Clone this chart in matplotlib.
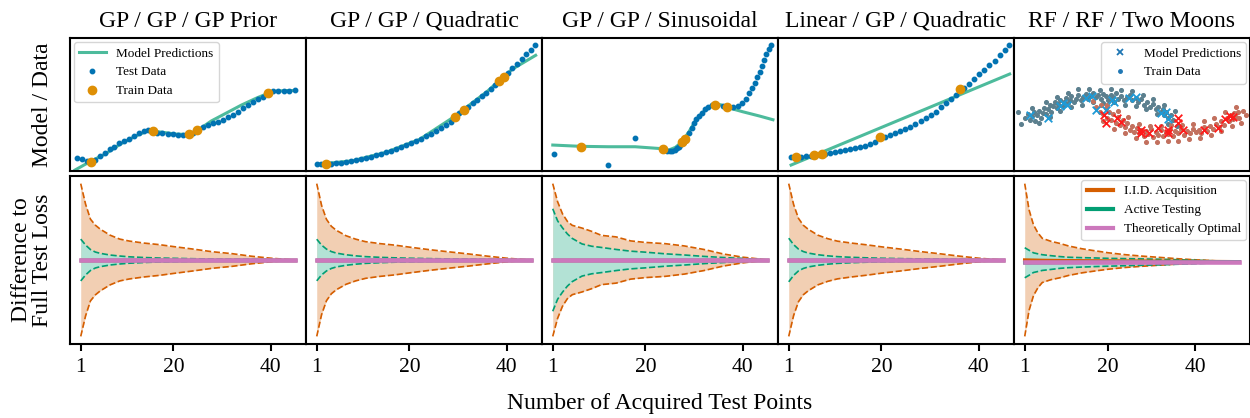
import numpy as np
import matplotlib
matplotlib.use('Agg')
import matplotlib.pyplot as plt
from matplotlib.lines import Line2D

plt.rcParams['font.family'] = ['Liberation Serif', 'DejaVu Serif']
plt.rcParams['axes.linewidth'] = 1.5

BLUE, ORANGE, GREEN, VERM, PINK = '#0173b2', '#de8f05', '#029e73', '#d55e00', '#cc78bc'
FILL_IID, FILL_ACT = '#f2cfb3', '#b3e2d5'

titles = ['GP / GP / GP Prior', 'GP / GP / Quadratic', 'GP / GP / Sinusoidal',
          'Linear / GP / Quadratic', 'RF / RF / Two Moons']

# ---- top row: model / data (units are arbitrary)
p1_test_x = [6.7, 11.7, 16.7, 25, 30, 35, 40, 43.3, 48.3, 53.3, 58.3, 63.3, 68.3, 73.3, 77.3, 86.7, 91.7,
             96.7, 101.7, 106.7, 111.7, 121.7, 131.7, 136.7, 141.7, 146.7, 151.7, 156.7, 161.7, 166.7,
             171.7, 176.7, 181.7, 186.7, 191.7, 201.7, 206.7, 211.7, 216.7, 223.3]
p1_test_y = [13.3, 11.7, 10, 11, 15, 18.3, 21.7, 24.3, 27.7, 30, 32, 35, 38.3, 40.3, 41, 38.3, 37.7,
             37, 36.7, 36.3, 36.3, 38.3, 43.7, 46, 47.7, 48.7, 51, 53.7, 55.7, 59.3,
             62.7, 66, 69.3, 72, 74.3, 80, 80, 79.7, 80.3, 80.7]
p1_train_x = [20.7, 82.7, 117.7, 126, 196.7]
p1_train_y = [9.3, 40, 36.7, 41, 77.7]
p1_model_x = [5, 20, 35, 50, 65, 78, 90, 105, 118, 127, 140, 155, 170, 185, 197, 205, 215, 223]
p1_model_y = [1, 9.5, 17, 27, 35, 40.5, 39, 37, 36.5, 41, 50, 58, 66, 73, 78, 80, 80.5, 80.5]

p2_test_x = [11, 15.3, 24.3, 29.3, 34.3, 39.3, 44.3, 49.3, 54.3, 59.3, 64.3, 69.3, 74.3, 79.3, 84.3,
             89.3, 94.3, 99.3, 104.3, 109.3, 114.3, 119.3, 124.3, 129.3, 134.3, 138.7, 143.3, 152, 161,
             165.3, 170, 174.3, 178.7, 183, 187.3, 200, 204.7, 209.3, 214, 218.3, 222.7, 227]
p2_test_y = [6.7, 6.7, 7.3, 7.7, 8.3, 9, 10, 11, 12, 13, 14.3, 15.7, 17, 18.7, 20.3,
             22, 24, 26, 28, 30, 32.3, 35, 37.3, 40, 42.7, 46, 49.3, 57.7, 64.3,
             67.7, 71, 75, 78.3, 82.3, 86, 97.7, 102.7, 106.7, 111.7, 116.7, 121, 126.3]
p2_train_x = [20, 147.7, 156.7, 191.7, 196]
p2_train_y = [7, 54.3, 61, 90, 94.3]
p2_model_x = [11, 46, 79.3, 112.7, 146, 179.3, 204.3, 216, 227.7]
p2_model_y = [6.7, 10.3, 18.7, 31.7, 53.7, 79.3, 101.7, 108.7, 115.7]

p3_test_x = [11.7, 65.7, 92.3, 124, 126.7, 129, 131.7, 134, 135.7, 137.3, 139, 140.7, 143, 145.7, 148.3,
             150.7, 153, 155.7, 158.3, 161.7, 165, 169, 174, 179, 184, 189, 194, 198.3, 202.3,
             205.7, 208.3, 210.7, 213, 215.7, 217.7, 220, 222.3, 225, 227.3]
p3_test_y = [16.7, 6.3, 33, 20.3, 19.7, 20, 21, 22.7, 24.3, 26, 27.7, 29.3, 32.7, 37.7, 42.7,
             47.7, 51.7, 55, 58.3, 61.7, 64.3, 66, 66.3, 65, 63.7, 63.7, 65, 67.7, 71.7,
             77.7, 82.7, 87.7, 93.7, 99.3, 105, 111, 117, 121.7, 126.3]
p3_train_x = [38.3, 119.7, 139, 141.7, 171.3, 183.3]
p3_train_y = [24.3, 22.3, 29.3, 31.7, 66.3, 63.7]
p3_model_x = [10.7, 38.3, 65.7, 92.3, 119.7, 125.7, 132.3, 139, 145.7, 152.3, 159, 165.7, 171.3,
              177.3, 183.3, 199, 215.7, 229]
p3_model_y = [26, 24.7, 24.3, 24.3, 22.3, 21, 23.7, 29.3, 39.3, 50.3, 58.3, 63.7, 66.3,
              66.3, 63.7, 59.3, 55, 51.3]

p4_test_x = [13, 18, 23, 28, 33, 41.3, 46.3, 51.3, 56.3, 61.3, 66.3, 71.3, 76.3, 81.3, 86.3, 91.3,
             96.3, 106.3, 111.3, 116.3, 121.3, 126.3, 131.3, 136.3, 141.3, 146.3, 151.3, 156.3,
             161.3, 166.3, 171.3, 176.3, 184.7, 189.7, 194.7, 199.7, 204.7, 209.7, 214.7, 219.7,
             224.7, 229]
p4_test_y = [14.3, 14.3, 14.3, 14.7, 15, 16.3, 17, 17.7, 18.7, 19.7, 20.7, 21.7, 22.7, 24, 25.3, 26.7,
             29, 33.7, 36, 38.3, 40.3, 42, 44.3, 46.7, 49.7, 52.7, 56.3, 59.3,
             63.7, 67.7, 71.7, 75.7, 82.7, 87, 91.7, 96.7, 101, 105.7, 110.3, 115.7,
             121, 126.3]
p4_train_x = [18, 35.3, 44, 101.3, 180.7]
p4_train_y = [14.3, 15.7, 17, 33.7, 81.7]
p4_model_x = [13, 229.7]
p4_model_y = [6, 97]

# two moons: train points per class, model predictions per class
moon0_x = [-1.05, -1.0, -0.98, -0.95, -0.92, -0.9, -0.88, -0.85, -0.82, -0.8, -0.78, -0.75, -0.72, -0.7,
           -0.68, -0.65, -0.62, -0.6, -0.58, -0.55, -0.52, -0.5, -0.47, -0.45, -0.42, -0.4, -0.36,
           -0.33, -0.3, -0.27, -0.24, -0.2, -0.17, -0.13, -0.1, -0.06, -0.02, 0.02, 0.05, 0.08, 0.12,
           0.15, 0.18, 0.22, 0.26, 0.3, 0.34, 0.38, 0.42, 0.45, 0.5, 0.54, 0.58, 0.62, 0.66, 0.7,
           0.74, 0.78, 0.82, 0.85, 0.88, 0.9, 0.93, 0.96, 1.0, 1.02,
           -1.1, -0.95, -0.85, -0.75, -0.7, -0.6, -0.55, -0.45, -0.4, -0.3, -0.25, -0.15, -0.1, 0.0,
           0.05, 0.15, 0.2, 0.3, 0.35, 0.45, 0.5, 0.6, 0.65, 0.75, 0.8, 0.9, 0.95, 1.05, 1.08, -1.15]
moon0_y = [0.05, 0.2, -0.05, 0.12, 0.3, -0.1, 0.15, 0.35, 0.05, 0.25, 0.45, 0.2, 0.4, 0.6,
           0.3, 0.55, 0.7, 0.45, 0.62, 0.8, 0.55, 0.72, 0.88, 0.65, 0.78, 0.95, 0.7,
           0.85, 1.0, 0.8, 0.92, 1.05, 0.85, 0.97, 1.1, 0.9, 1.0, 0.85, 1.05, 0.95, 0.8,
           1.0, 0.9, 1.08, 0.85, 0.95, 0.78, 0.9, 1.0, 0.8, 0.88, 0.7, 0.82, 0.6, 0.72, 0.5,
           0.62, 0.4, 0.5, 0.3, 0.42, 0.15, 0.28, 0.05, 0.18, -0.05,
           -0.2, 0.45, -0.15, 0.7, 0.1, 0.9, 0.35, 1.1, 0.5, 1.25, 0.6, 1.25, 0.7, 1.2,
           0.65, 1.25, 0.7, 1.2, 0.6, 1.15, 0.55, 1.0, 0.4, 0.85, 0.2, 0.6, -0.2, 0.35, -0.3, 0.3]
moon1_x = [-0.05, 0.0, 0.02, 0.05, 0.08, 0.1, 0.13, 0.16, 0.18, 0.22, 0.25, 0.28, 0.32, 0.35, 0.38,
           0.42, 0.45, 0.48, 0.52, 0.55, 0.58, 0.62, 0.65, 0.68, 0.72, 0.75, 0.78, 0.82, 0.85,
           0.88, 0.92, 0.95, 0.98, 1.02, 1.05, 1.1, 1.14, 1.18, 1.22, 1.26, 1.3, 1.34, 1.38,
           1.42, 1.46, 1.5, 1.54, 1.58, 1.62, 1.66, 1.7, 1.74, 1.78, 1.8, 1.83, 1.86, 1.88,
           1.9, 1.93, 1.95,
           -0.1, 0.05, 0.1, 0.2, 0.25, 0.35, 0.4, 0.5, 0.55, 0.65, 0.7, 0.8, 0.85, 0.95, 1.0,
           1.1, 1.15, 1.25, 1.3, 1.4, 1.45, 1.55, 1.6, 1.7, 1.75, 1.85, 1.9, 1.98, 2.0, 2.05]
moon1_y = [0.5, 0.3, 0.6, 0.2, 0.45, 0.05, 0.3, -0.05, 0.2, -0.15, 0.1, -0.25, -0.05, -0.35, -0.15,
           -0.45, -0.3, -0.55, -0.38, -0.6, -0.45, -0.7, -0.5, -0.62, -0.4, -0.75, -0.55, -0.65, -0.45,
           -0.7, -0.55, -0.62, -0.4, -0.7, -0.5, -0.6, -0.42, -0.65, -0.5, -0.58, -0.4, -0.55, -0.45,
           -0.6, -0.35, -0.5, -0.3, -0.42, -0.2, -0.35, -0.1, -0.25, 0.05, -0.1, 0.15, 0.0, 0.25,
           0.1, 0.3, 0.05,
           0.75, -0.1, 0.6, -0.4, 0.35, -0.6, 0.1, -0.8, -0.2, -0.95, -0.3, -0.95, -0.3, -0.9, -0.25,
           -0.9, -0.25, -0.85, -0.2, -0.8, -0.1, -0.65, 0.05, -0.5, 0.3, -0.3, 0.5, -0.15, 0.35, 0.15]
pred0_x = [-0.98, -0.72, -0.55, -0.51, -0.46, -0.2, -0.11, -0.06, 0.08, 0.17, 0.2, 0.41, 0.5, 0.85, 0.93, 0.95]
pred0_y = [0.17, 0.03, 0.54, 0.65, 0.58, 0.86, 0.96, 0.38, 0.38, 0.79, 0.72, 0.86, 0.93, 0.24, 0.3, -0.01]
pred1_x = [0.06, 0.08, 0.24, 0.29, 0.57, 0.57, 0.69, 0.81, 0.95, 0.95, 1.09, 1.09, 1.16, 1.46, 1.65, 1.75, 1.82, 1.86]
pred1_y = [0.17, -0.18, 0.03, -0.11, -0.46, -0.6, -0.6, -0.39, -0.46, -0.6, 0.03, -0.18, -0.46, -0.46, -0.39, -0.01, 0.13, 0.07]

# ---- bottom row: difference to full test loss (spread of estimators)
steps_a = [1, 2, 3, 4, 5, 7, 9, 11, 14, 17, 20, 24, 28, 32, 36, 40, 43, 45]
steps_b = [1, 2, 3, 4, 5, 7, 9, 11, 14, 17, 20, 24, 28, 32, 36, 40, 44, 47, 50]
iid_std = [
    [76.7, 56, 41, 35, 31, 25, 21, 19, 17, 15.5, 13.5, 11, 8.3, 6.4, 3.8, 1.8, 0.7, 0],
    [77, 55, 41, 34, 30, 24.5, 21, 18.5, 16.5, 15, 13, 10.5, 8.3, 6.2, 3.9, 1.8, 0.7, 0],
    [76, 58, 46, 38.5, 34.5, 31.8, 28.5, 24.5, 23, 19, 17.5, 16.3, 14, 10.5, 6, 2.8, 1.2, 0],
    [77, 56, 42, 35, 31, 25, 21.5, 19, 17, 15.3, 13.3, 11, 8.5, 6.3, 3.9, 1.8, 0.7, 0],
    [77.7, 51, 36, 28, 22.5, 19.5, 17.5, 15, 12.3, 10.3, 8.4, 6.5, 5.1, 3.9, 2.7, 1.7, 0.9, 0.4, 0],
]
act_std = [
    [21, 15, 10.5, 8, 6.7, 5, 4, 3.2, 2.5, 2, 1.7, 1.3, 1.0, 0.8, 0.6, 0.4, 0.2, 0],
    [21, 15, 11, 8.5, 7, 5.3, 4.2, 3.4, 2.7, 2.2, 1.8, 1.4, 1.1, 0.9, 0.6, 0.4, 0.2, 0],
    [51, 39, 32, 26, 21.5, 16, 13.7, 12.5, 10.5, 8.8, 7.8, 6.2, 5, 3.6, 2.5, 1.5, 0.6, 0],
    [22, 15.5, 11, 8.5, 7, 5.3, 4.2, 3.4, 2.7, 2.2, 1.8, 1.4, 1.1, 0.9, 0.6, 0.4, 0.2, 0],
    [15.3, 12.7, 10, 9, 8, 7, 6, 5.3, 4.8, 4.4, 4, 3.6, 3.2, 2.8, 2.3, 1.8, 1.1, 0.6, 0],
]
iid_mean_b = [1.8, 1.7, 1.6, 1.5, 1.4, 1.3, 1.2, 1.1, 1.0, 0.9, 0.8, 0.7, 0.6, 0.5, 0.4, 0.3, 0.2, 0.1, 0]
act_mean_b = [-1.0, -1.0, -0.9, -0.9, -0.8, -0.8, -0.7, -0.7, -0.6, -0.5, -0.5, -0.4, -0.3, -0.3, -0.2, -0.2, -0.1, 0, 0]

fig = plt.figure(figsize=(12.5, 4.18), dpi=100)
gs = fig.add_gridspec(2, 5, left=0.056, right=1.0, top=0.909, bottom=0.177,
                      hspace=0.033, wspace=0, height_ratios=[133, 168])

tops = [(p1_test_x, p1_test_y, p1_train_x, p1_train_y, p1_model_x, p1_model_y),
        (p2_test_x, p2_test_y, p2_train_x, p2_train_y, p2_model_x, p2_model_y),
        (p3_test_x, p3_test_y, p3_train_x, p3_train_y, p3_model_x, p3_model_y),
        (p4_test_x, p4_test_y, p4_train_x, p4_train_y, p4_model_x, p4_model_y)]

for i in range(5):
    ax = fig.add_subplot(gs[0, i])
    ax.set_title(titles[i], fontsize=17, pad=8)
    ax.set_xticks([]); ax.set_yticks([])
    if i < 4:
        tx, ty, rx, ry, mx, my = tops[i]
        ax.plot(mx, my, color=GREEN, alpha=0.7, lw=2.2, label='Model Predictions', zorder=1)
        ax.plot(tx, ty, 'o', color=BLUE, ms=3.2, ls='none', label='Test Data', zorder=2)
        ax.plot(rx, ry, 'o', color=ORANGE, ms=6, ls='none', label='Train Data', zorder=3)
        ax.set_xlim(0, 234); ax.set_ylim(0, 133)
        if i == 0:
            ax.legend(loc='upper left', fontsize=9.5, borderaxespad=0.3)
    else:
        ax.scatter(moon0_x, moon0_y, s=7, color='#5b7f8e', zorder=1)
        ax.scatter(moon1_x, moon1_y, s=7, color='#c2705e', zorder=1)
        ax.scatter(pred0_x, pred0_y, s=30, marker='x', color='#1f9ad6', lw=1.3, zorder=2)
        ax.scatter(pred1_x, pred1_y, s=30, marker='x', color='#ff1a1a', lw=1.3, zorder=2)
        ax.set_xlim(-1.2, 2.1); ax.set_ylim(-2.17, 3.38)
        h = [Line2D([], [], marker='x', color='#1f77b4', ls='none', ms=5, mew=1.3),
             Line2D([], [], marker='o', color='#1f77b4', ls='none', ms=2.5)]
        ax.legend(h, ['Model Predictions', 'Train Data'], loc='upper right', fontsize=9.5, borderaxespad=0.3)

for i in range(5):
    ax = fig.add_subplot(gs[1, i])
    xs = np.array(steps_b if i == 4 else steps_a)
    s_iid = np.array(iid_std[i]); s_act = np.array(act_std[i])
    m_iid = np.array(iid_mean_b) if i == 4 else np.zeros(len(xs))
    m_act = np.array(act_mean_b) if i == 4 else np.zeros(len(xs))
    ax.fill_between(xs, m_iid - s_iid, m_iid + s_iid, color=FILL_IID, lw=0, zorder=1)
    ax.fill_between(xs, m_act - s_act, m_act + s_act, color=FILL_ACT, lw=0, zorder=2)
    ax.plot(xs, m_iid + s_iid, '--', color=VERM, lw=1.2, zorder=3)
    ax.plot(xs, m_iid - s_iid, '--', color=VERM, lw=1.2, zorder=3)
    ax.plot(xs, m_act + s_act, '--', color=GREEN, lw=1.2, zorder=3)
    ax.plot(xs, m_act - s_act, '--', color=GREEN, lw=1.2, zorder=3)
    ax.plot(xs, m_iid, color=VERM, lw=2.5, zorder=4)
    ax.plot(xs, m_act, color=GREEN, lw=2.5, zorder=4)
    ax.plot(xs, np.zeros(len(xs)), color=PINK, lw=3.3, zorder=5)
    ax.set_xticks([1, 20, 40])
    ax.set_yticks([])
    ax.tick_params(axis='x', labelsize=15.5, length=5, width=1.5, pad=5)
    if i == 4:
        h = [Line2D([], [], color=VERM, lw=3), Line2D([], [], color=GREEN, lw=3),
             Line2D([], [], color=PINK, lw=3)]
        ax.legend(h, ['I.I.D. Acquisition', 'Active Testing', 'Theoretically Optimal'],
                  loc='upper right', fontsize=9.5, borderaxespad=0.3)

fig.text(0.0336, 0.75, 'Model / Data', rotation=90, fontsize=17, ha='center', va='center')
fig.text(0.0255, 0.378, 'Difference to\nFull Test Loss', rotation=90, fontsize=17,
         ha='center', va='center', linespacing=1.0)
fig.text(0.528, 0.034, 'Number of Acquired Test Points', fontsize=17, ha='center', va='center')

fig.savefig('out.png', dpi=100)
